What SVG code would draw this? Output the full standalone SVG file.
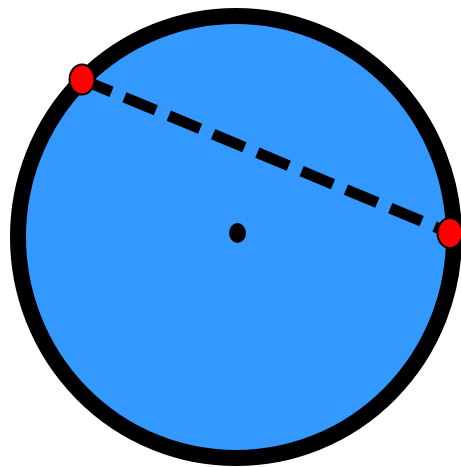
<svg xmlns="http://www.w3.org/2000/svg" width="461" height="467" viewBox="0 0 461 467">
  <style>
    .pt { fill: #ff0000; stroke: #000000; stroke-width: 2; }
  </style>
  <rect width="461" height="467" fill="#ffffff"/>
  <g id="disk">
    <ellipse cx="236" cy="237" rx="218" ry="221" fill="#3399ff" stroke="#000000" stroke-width="16"/>
  </g>
  <g id="connectors">
    <line x1="82" y1="79.5" x2="450" y2="233" stroke="#000000" stroke-width="11" stroke-dasharray="34 14" stroke-dashoffset="2"/>
  </g>
  <g id="center">
    <ellipse cx="237.5" cy="233" rx="8.5" ry="10" fill="#000000"/>
  </g>
  <g id="pointA">
    <ellipse class="pt" cx="82" cy="79.5" rx="12.5" ry="15"/>
  </g>
  <g id="pointB">
    <ellipse class="pt" cx="450" cy="233" rx="12.5" ry="15"/>
  </g>
</svg>
